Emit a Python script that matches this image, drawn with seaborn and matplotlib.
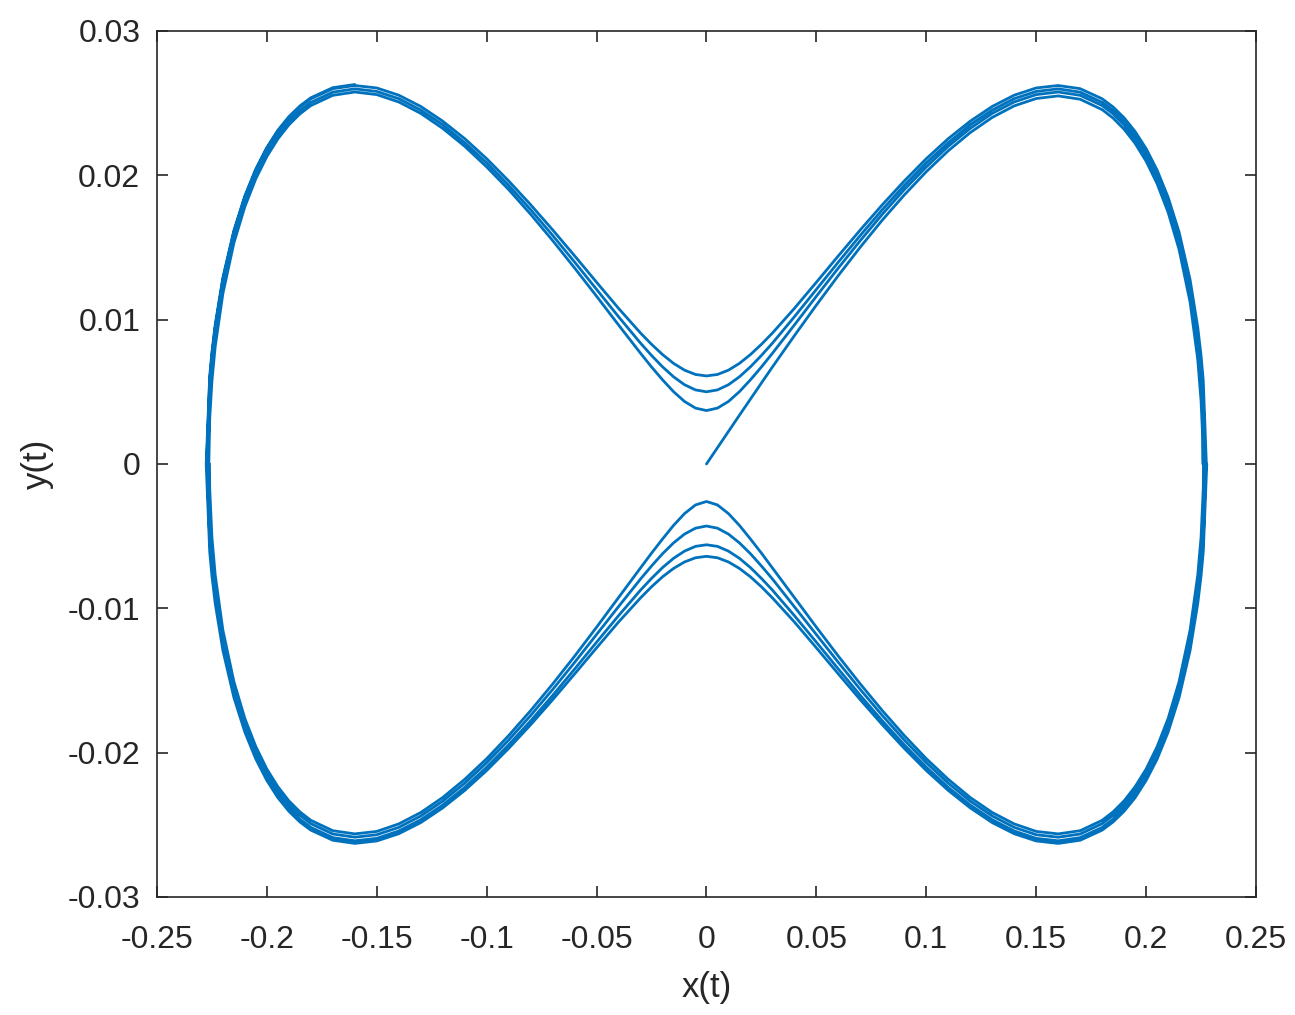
import pandas as pd
import matplotlib
matplotlib.use("Agg")
import matplotlib.pyplot as plt
import seaborn as sns

sns.set_style("ticks")
plt.rcParams['font.family'] = ['Liberation Sans', 'DejaVu Sans']
plt.rcParams['axes.unicode_minus'] = False

# |x| positions of one quarter of a lobe, from the centre out to the turning point
x_quarter = [0.0, 0.005, 0.01, 0.015, 0.02, 0.025, 0.03, 0.04, 0.05, 0.06,
             0.07, 0.08, 0.09, 0.10, 0.11, 0.12, 0.13, 0.14, 0.15, 0.16,
             0.17, 0.18, 0.185, 0.19, 0.195, 0.20, 0.205, 0.21, 0.215, 0.22,
             0.2235, 0.225]

# |y| of the upper half-lobes (passes over the centre at 0, 0.0037, 0.0050, 0.0061)
up0 = [0.0, 0.00113, 0.00226, 0.00338, 0.00450, 0.00561, 0.00672, 0.00889, 0.01101, 0.01306,
       0.01503, 0.01690, 0.01864, 0.02025, 0.02170, 0.02296, 0.02401, 0.02481, 0.02532, 0.02550,
       0.02527, 0.02455, 0.02396, 0.02319, 0.02221, 0.02098, 0.01942, 0.01744, 0.01486, 0.01122,
       0.00723, 0.00436]
up1 = [0.00370, 0.00387, 0.00433, 0.00501, 0.00583, 0.00672, 0.00767, 0.00963, 0.01162, 0.01358,
       0.01548, 0.01730, 0.01901, 0.02058, 0.02201, 0.02325, 0.02429, 0.02508, 0.02559, 0.02577,
       0.02554, 0.02483, 0.02425, 0.02349, 0.02252, 0.02130, 0.01977, 0.01783, 0.01531, 0.01181,
       0.00813, 0.00572]
up2 = [0.00500, 0.00513, 0.00549, 0.00604, 0.00673, 0.00752, 0.00837, 0.01020, 0.01209, 0.01399,
       0.01584, 0.01762, 0.01930, 0.02086, 0.02226, 0.02350, 0.02452, 0.02531, 0.02581, 0.02599,
       0.02576, 0.02505, 0.02448, 0.02373, 0.02277, 0.02156, 0.02005, 0.01815, 0.01568, 0.01228,
       0.00879, 0.00663]
up3 = [0.00610, 0.00620, 0.00650, 0.00697, 0.00758, 0.00829, 0.00907, 0.01078, 0.01259, 0.01442,
       0.01622, 0.01796, 0.01961, 0.02115, 0.02254, 0.02375, 0.02477, 0.02555, 0.02605, 0.02622,
       0.02600, 0.02530, 0.02473, 0.02398, 0.02303, 0.02185, 0.02036, 0.01848, 0.01606, 0.01277,
       0.00946, 0.00750]
# |y| of the lower half-lobes (passes under the centre at -0.0026, -0.0043, -0.0056, -0.0064)
lo1 = [0.00260, 0.00284, 0.00344, 0.00426, 0.00520, 0.00618, 0.00720, 0.00926, 0.01131, 0.01332,
       0.01525, 0.01709, 0.01882, 0.02042, 0.02185, 0.02311, 0.02415, 0.02494, 0.02546, 0.02563,
       0.02541, 0.02469, 0.02410, 0.02334, 0.02236, 0.02114, 0.01959, 0.01764, 0.01508, 0.01152,
       0.00769, 0.00507]
lo2 = [0.00430, 0.00445, 0.00486, 0.00547, 0.00622, 0.00707, 0.00797, 0.00988, 0.01182, 0.01375,
       0.01563, 0.01743, 0.01913, 0.02070, 0.02212, 0.02336, 0.02439, 0.02518, 0.02569, 0.02586,
       0.02564, 0.02492, 0.02434, 0.02359, 0.02263, 0.02141, 0.01989, 0.01797, 0.01547, 0.01201,
       0.00842, 0.00612]
lo3 = [0.00560, 0.00571, 0.00604, 0.00654, 0.00718, 0.00793, 0.00874, 0.01051, 0.01235, 0.01421,
       0.01604, 0.01780, 0.01946, 0.02101, 0.02241, 0.02363, 0.02465, 0.02543, 0.02594, 0.02611,
       0.02589, 0.02518, 0.02461, 0.02386, 0.02291, 0.02171, 0.02021, 0.01832, 0.01588, 0.01254,
       0.00915, 0.00710]
lo4 = [0.00640, 0.00650, 0.00679, 0.00724, 0.00782, 0.00851, 0.00928, 0.01095, 0.01274, 0.01455,
       0.01634, 0.01807, 0.01971, 0.02124, 0.02262, 0.02383, 0.02485, 0.02562, 0.02612, 0.02629,
       0.02607, 0.02537, 0.02480, 0.02406, 0.02312, 0.02193, 0.02045, 0.01858, 0.01618, 0.01292,
       0.00966, 0.00774]

branches = [up0, up1, up2, up3, lo1, lo2, lo3, lo4]
# last points before the turning point (y = 0) of each branch
near_x = [0.2256, 0.226, 0.226, 0.226, 0.226, 0.226, 0.226, 0.226]
near_y = [0.00231, 0.00313, 0.00460, 0.00577, 0.00170, 0.00382, 0.00524, 0.00609]
tip_x = [0.2258, 0.2264, 0.2269, 0.2274, 0.2261, 0.2266, 0.2272, 0.2276]

x_ticks = [-0.25, -0.2, -0.15, -0.1, -0.05, 0, 0.05, 0.1, 0.15, 0.2, 0.25]
x_labels = ['-0.25', '-0.2', '-0.15', '-0.1', '-0.05', '0', '0.05', '0.1', '0.15', '0.2', '0.25']
y_ticks = [-0.03, -0.02, -0.01, 0, 0.01, 0.02, 0.03]
y_labels = ['-0.03', '-0.02', '-0.01', '0', '0.01', '0.02', '0.03']


def quarter(i):
    xs = x_quarter + [near_x[i], tip_x[i]]
    ys = branches[i] + [near_y[i], 0.0]
    return xs, ys


def right_lobe(iu, il):
    xu, yu = quarter(iu)
    xl, yl = quarter(il)
    return xu + xl[::-1], yu + [-v for v in yl[::-1]]


def left_lobe(il, iu):
    xl, yl = quarter(il)
    xu, yu = quarter(iu)
    return [-v for v in xl] + [-v for v in xu[::-1]], [-v for v in yl] + yu[::-1]


xs, ys = [], []
for part in [right_lobe(0, 4), left_lobe(4, 1), right_lobe(1, 5), left_lobe(5, 2),
             right_lobe(2, 6), left_lobe(6, 3), right_lobe(3, 7)]:
    xs += part[0]
    ys += part[1]
# last swing: into the left lobe, stopping near the top-left
xl, yl = quarter(7)
xs += [-v for v in xl]
ys += [-v for v in yl]
xs += [-v for v in xl[::-1][:15]]
ys += yl[::-1][:15]

df = pd.DataFrame({'x': xs, 'y': ys})

fig = plt.figure(figsize=(12.95, 10.15), dpi=100)
ax = fig.add_axes([0.1212, 0.1163, 0.8487, 0.8532])
sns.lineplot(data=df, x='x', y='y', sort=False, estimator=None, color='#0072BD', linewidth=2, ax=ax)

ax.set_xlim(-0.25, 0.25)
ax.set_ylim(-0.03, 0.03)
ax.set_xticks(x_ticks)
ax.set_xticklabels(x_labels)
ax.set_yticks(y_ticks)
ax.set_yticklabels(y_labels)
ax.tick_params(direction='in', length=8, width=1.2, colors='#262626', labelsize=23,
               top=True, right=True)
ax.tick_params(axis='x', pad=20)
ax.tick_params(axis='y', pad=12)
for sp in ax.spines.values():
    sp.set_visible(True)
    sp.set_color('#262626')
    sp.set_linewidth(1.2)
ax.set_xlabel('x(t)', fontsize=25, color='#262626', labelpad=12)
ax.set_ylabel('y(t)', fontsize=25, color='#262626', labelpad=10)

plt.savefig('out.png', dpi=100)
